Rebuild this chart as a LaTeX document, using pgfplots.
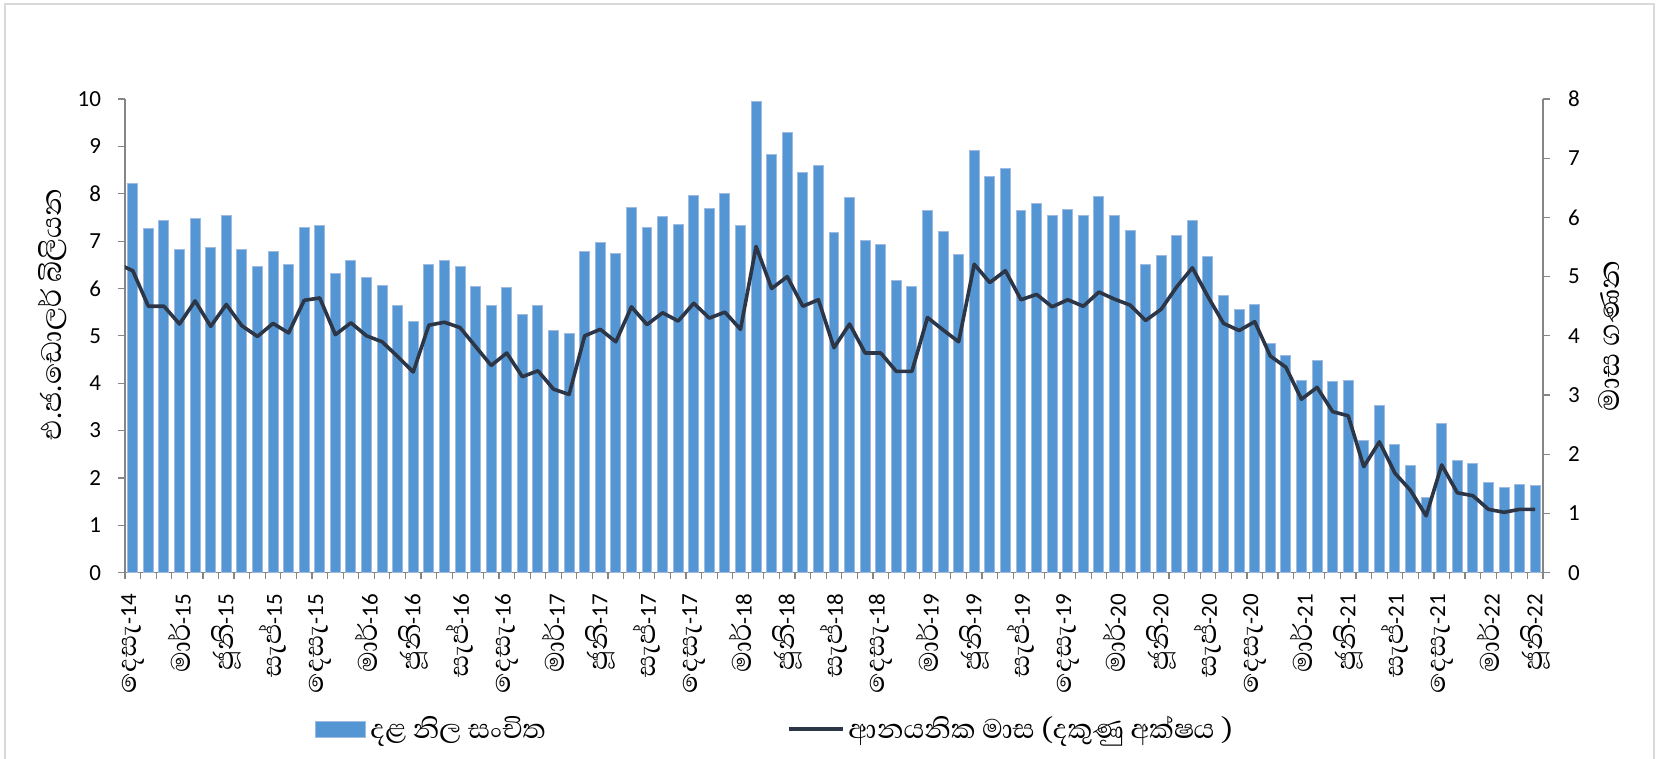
\documentclass[border=0pt]{standalone}
\usepackage{pgfplots}
\pgfplotsset{compat=1.18}
\usepackage{pgfplotstable}
\usepackage{fontspec}
\setmainfont{Carlito}
\newfontfamily\sinhfont[Script=Sinhala, Scale=1.5]{Abhaya Libre}
\newcommand{\sn}[1]{{\sinhfont #1}}
\definecolor{barblue}{RGB}{84,150,211}
\definecolor{barborder}{RGB}{160,187,226}
\definecolor{linecol}{RGB}{44,54,70}
\definecolor{axgray}{RGB}{134,134,134}
\definecolor{framegray}{RGB}{217,217,217}

\pgfplotstableread{
x y
0 8.22
1 7.26
2 7.43
3 6.83
4 7.47
5 6.86
6 7.53
7 6.82
8 6.46
9 6.79
10 6.50
11 7.29
12 7.32
13 6.31
14 6.58
15 6.23
16 6.07
17 5.65
18 5.30
19 6.50
20 6.60
21 6.46
22 6.05
23 5.64
24 6.02
25 5.45
26 5.64
27 5.12
28 5.05
29 6.77
30 6.97
31 6.73
32 7.71
33 7.29
34 7.52
35 7.35
36 7.97
37 7.68
38 8.00
39 7.33
40 9.95
41 8.82
42 9.29
43 8.44
44 8.60
45 7.18
46 7.92
47 7.01
48 6.93
49 6.16
50 6.04
51 7.64
52 7.21
53 6.71
54 8.91
55 8.36
56 8.53
57 7.64
58 7.79
59 7.53
60 7.66
61 7.53
62 7.95
63 7.54
64 7.22
65 6.51
66 6.70
67 7.11
68 7.44
69 6.67
70 5.86
71 5.56
72 5.67
73 4.84
74 4.58
75 4.05
76 4.47
77 4.03
78 4.05
79 2.80
80 3.54
81 2.70
82 2.27
83 1.58
84 3.14
85 2.36
86 2.31
87 1.91
88 1.80
89 1.87
90 1.85
}\reserves

\pgfplotstableread{
x y
-1 5.22
0 5.10
1 4.50
2 4.50
3 4.20
4 4.59
5 4.16
6 4.53
7 4.17
8 3.99
9 4.21
10 4.05
11 4.60
12 4.64
13 4.02
14 4.22
15 4.00
16 3.90
17 3.65
18 3.39
19 4.18
20 4.23
21 4.14
22 3.82
23 3.50
24 3.71
25 3.31
26 3.41
27 3.10
28 3.01
29 4.00
30 4.11
31 3.90
32 4.49
33 4.19
34 4.39
35 4.25
36 4.55
37 4.30
38 4.40
39 4.11
40 5.51
41 4.80
42 5.00
43 4.50
44 4.61
45 3.80
46 4.20
47 3.71
48 3.71
49 3.40
50 3.40
51 4.31
52 4.10
53 3.90
54 5.21
55 4.90
56 5.10
57 4.61
58 4.70
59 4.49
60 4.61
61 4.50
62 4.74
63 4.62
64 4.52
65 4.26
66 4.45
67 4.83
68 5.15
69 4.66
70 4.21
71 4.09
72 4.24
73 3.66
74 3.47
75 2.93
76 3.13
77 2.72
78 2.65
79 1.79
80 2.21
81 1.68
82 1.39
83 0.96
84 1.82
85 1.35
86 1.30
87 1.07
88 1.02
89 1.07
90 1.07
}\months

\begin{document}
\begin{tikzpicture}
\begin{axis}[
  scale only axis, width=709pt, height=236.85pt,
  at={(0,0)}, anchor=south west,
  xmin=-0.5, xmax=90.5, ymin=0, ymax=10,
  axis y line*=left, axis x line*=bottom,
  axis line style={-, axgray, line width=0.75pt},
  /pgf/number format/assume math mode=true,
  ytick={0,1,...,10},
  xtick={0,3,...,90},
  xticklabels={{\sn{දෙසැ}-14},{\sn{මාර්}-15},{\sn{ජූනි}-15},{\sn{සැප්}-15},
    {\sn{දෙසැ}-15},{\sn{මාර්}-16},{\sn{ජූනි}-16},{\sn{සැප්}-16},
    {\sn{දෙසැ}-16},{\sn{මාර්}-17},{\sn{ජූනි}-17},{\sn{සැප්}-17},
    {\sn{දෙසැ}-17},{\sn{මාර්}-18},{\sn{ජූනි}-18},{\sn{සැප්}-18},
    {\sn{දෙසැ}-18},{\sn{මාර්}-19},{\sn{ජූනි}-19},{\sn{සැප්}-19},
    {\sn{දෙසැ}-19},{\sn{මාර්}-20},{\sn{ජූනි}-20},{\sn{සැප්}-20},
    {\sn{දෙසැ}-20},{\sn{මාර්}-21},{\sn{ජූනි}-21},{\sn{සැප්}-21},
    {\sn{දෙසැ}-21},{\sn{මාර්}-22},{\sn{ජූනි}-22}},
  minor xtick={-0.5,0.5,...,90.5},
  major x tick style={draw=none},
  minor x tick style={axgray, line width=0.6pt},
  ytick style={axgray, line width=0.6pt},
  tick align=outside, major tick length=3.5pt, minor tick length=3pt,
  xticklabel style={rotate=90, anchor=east, font=\fontsize{11.5}{13}\selectfont, inner sep=1pt},
  xticklabel shift=6pt,
  yticklabel style={font=\fontsize{11.5}{13}\selectfont, xshift=-5pt},
  ylabel={\sn{එ.ජ.ඩොලර් බිලියන}},
  ylabel style={font=\fontsize{12}{14}\selectfont, at={(axis description cs:-0.0515,0.545)}, anchor=center},
]
\addplot[ybar, bar width=0.64, fill=barblue, draw=barborder, line width=0.5pt] table[x=x,y=y] {\reserves};
\end{axis}
\begin{axis}[
  scale only axis, width=709pt, height=236.85pt,
  at={(0,0)}, anchor=south west,
  xmin=-0.5, xmax=90.5, ymin=0, ymax=8,
  hide x axis,
  axis y line*=right,
  axis line style={-, axgray, line width=0.75pt},
  /pgf/number format/assume math mode=true,
  ytick={0,1,...,8},
  ytick style={axgray, line width=0.6pt},
  tick align=outside, major tick length=3.5pt,
  yticklabel style={font=\fontsize{11.5}{13}\selectfont, xshift=5.5pt},
  ylabel={\sn{මාස ගණන}},
  ylabel style={font=\fontsize{12.5}{14}\selectfont, at={(axis description cs:1.0466,0.5)}, anchor=center},
  legend columns=2,
  legend style={at={(axis description cs:0.134,-0.33)}, anchor=west, draw=none, fill=none,
    inner sep=0pt, font=\fontsize{11.5}{13}\selectfont,
    /tikz/every even column/.append style={column sep=118.5pt}},
]
\addlegendimage{legend image code/.code={\draw[fill=barblue,draw=barborder,line width=0.5pt] (0pt,-4pt) rectangle (25pt,4pt);}}
\addlegendentry{\sn{දළ නිල සංචිත}}
\addplot[linecol, line width=1.8pt, line join=round,
  legend image code/.code={\draw[linecol,line width=1.8pt] (0pt,0pt) -- (27pt,0pt);}] table[x=x,y=y] {\months};
\addlegendentry{\sn{ආනයනික මාස (දකුණු අක්ෂය )}}
\end{axis}
\draw[framegray, line width=1pt] (-59.75pt,-100pt) -- (-59.75pt,284.1pt) -- (764.5pt,284.1pt) -- (764.5pt,-100pt);
\pgfresetboundingbox
\useasboundingbox (-62.5pt,-93.15pt) rectangle (768pt,286.35pt);
\end{tikzpicture}
\end{document}
